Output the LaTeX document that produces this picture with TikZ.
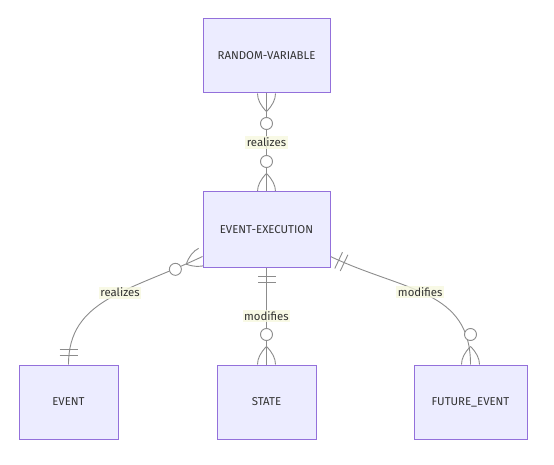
\documentclass[tikz,border=0pt]{standalone}
\usepackage{fontspec}
\setmainfont{Fira Sans}
\usetikzlibrary{backgrounds}

\definecolor{entityfill}{HTML}{ECECFF}
\definecolor{entityline}{HTML}{9370DB}
\definecolor{relline}{HTML}{8C8C8C}
\definecolor{labelfill}{HTML}{F6F8DF}
\definecolor{textgray}{HTML}{333333}

\tikzset{
  entity/.style={draw=entityline, fill=entityfill, line width=1pt, text=textgray,
    minimum height=74pt, font=\fontsize{11.4}{13}\selectfont},
  rel/.style={draw=relline, line width=0.9pt},
  rellabel/.style={fill=labelfill, fill opacity=0.8, text opacity=1, text=textgray,
    inner sep=1.5pt, font=\fontsize{11.4}{13}\selectfont},
  pics/onlyone/.style={code={
    \draw[rel] (9,-9) -- (9,9) (15,-9) -- (15,9);
  }},
  pics/zeromany/.style={code={
    \draw[rel] (18,0) .. controls (12,6) and (6,9) .. (0,9);
    \draw[rel] (18,0) .. controls (12,-6) and (6,-9) .. (0,-9);
    \draw[rel, fill=white] (30,0) circle (6);
  }}
}

\begin{document}
\begin{tikzpicture}[x=1pt, y=-1pt]
  \useasboundingbox (0,0) rectangle (554,465);

  \node[entity, minimum width=127pt] (rv) at (266.5,56) {RANDOM-VARIABLE};
  \node[entity, minimum width=127pt, minimum height=75pt] (ee) at (266.5,229.5) {EVENT-EXECUTION};
  \node[entity, minimum width=99pt] (ev) at (68.5,402) {EVENT};
  \node[entity, minimum width=99pt] (st) at (266.5,402) {STATE};
  \node[entity, minimum width=113pt] (fe) at (470.5,402) {FUTURE\_EVENT};

  \coordinate (eeleft) at ([yshift=11pt]ee.south west);
  \coordinate (eeright) at ([yshift=11pt]ee.south east);

  \begin{scope}[on background layer]
    % relationships
    \draw[rel] (rv.south) -- node[rellabel] {realizes} (ee.north);
    \draw[rel] (ee.south) -- node[rellabel] {modifies} (st.north);
    \draw[rel] (eeleft) .. controls +(-74,35) and +(0,-65) .. node[rellabel, pos=0.42] {realizes} (ev.north);
    \draw[rel] (eeright) .. controls +(74,35) and +(0,-75) .. node[rellabel, pos=0.45] {modifies} (fe.north);

    % cardinality ends
    \pic[rotate=-90] at (rv.south) {zeromany};
    \pic[rotate=90] at (ee.north) {zeromany};
    \pic[rotate=-90] at (ee.south) {onlyone};
    \pic[rotate=90] at (st.north) {zeromany};
    \pic[rotate=205.3] at (eeleft) {zeromany};
    \pic[rotate=90] at (ev.north) {onlyone};
    \pic[rotate=-25.3] at (eeright) {onlyone};
    \pic[rotate=90] at (fe.north) {zeromany};
  \end{scope}
\end{tikzpicture}
\end{document}
